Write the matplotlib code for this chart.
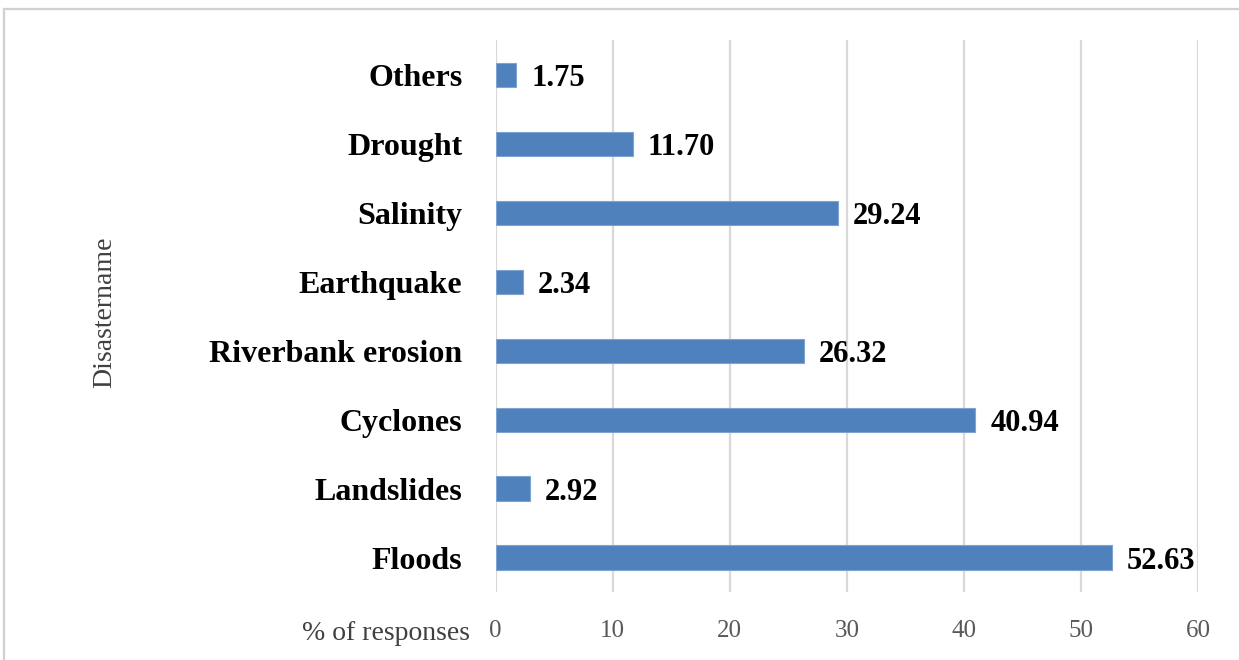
import matplotlib.pyplot as plt
from matplotlib.patches import Rectangle

# disaster types, bottom to top
disasters = ["Floods", "Landslides", "Cyclones", "Riverbank erosion",
             "Earthquake", "Salinity", "Drought", "Others"]
responses = [52.63, 2.92, 40.94, 26.32, 2.34, 29.24, 11.70, 1.75]
xticks = [0, 10, 20, 30, 40, 50, 60]

plt.rcParams['font.family'] = ['Liberation Serif', 'DejaVu Serif']

fig = plt.figure(figsize=(12.39, 6.6), dpi=100)
ax = fig.add_axes([0.400, 0.103, 0.567, 0.836])

# light frame around the chart area
fig.patches.append(Rectangle((4 / 1239, -0.05), 1.1, 1 - 9 / 660 + 0.05,
                             transform=fig.transFigure, fill=False,
                             edgecolor='#d0d0d0', linewidth=1.6))

pos = range(len(disasters))
ax.barh(pos, responses, height=0.35, color='#4f81bd', edgecolor='#7fa3d1',
        linewidth=0.8, zorder=3)

for y, v in zip(pos, responses):
    ax.text(v + 1.3, y - 0.06, f"{v:.2f}", va='center', ha='left',
            fontsize=22, fontweight='bold', color='black')

ax.set_xlim(0, 60)
ax.set_ylim(-0.5, 7.5)
ax.set_xticks(xticks)
ax.set_xticklabels([str(t) for t in xticks], fontsize=18, color='#595959')
ax.set_yticks(list(pos))
ax.set_yticklabels(disasters, fontsize=23, fontweight='bold')
ax.tick_params(axis='both', length=0)
ax.tick_params(axis='x', pad=20)
ax.tick_params(axis='y', pad=24)
ax.grid(axis='x', color='#d9d9d9', linewidth=1.6, zorder=0)
for s in ax.spines.values():
    s.set_visible(False)

fig.text(470 / 1239, 1 - 633 / 660, "% of responses", ha='right', va='center',
         fontsize=20, color='#404040')
fig.text(105 / 1239, 1 - 312 / 660, "Disastername", rotation=90, ha='center',
         va='center', fontsize=20, color='#404040')

fig.savefig("out.png", dpi=100)
